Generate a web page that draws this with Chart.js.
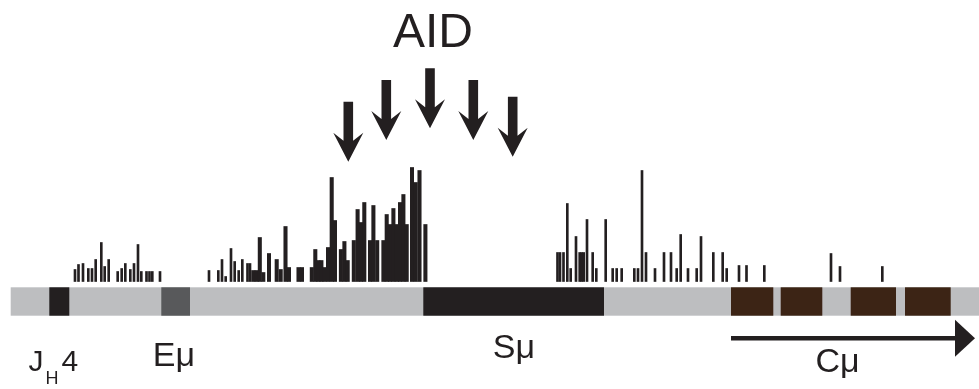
<!DOCTYPE html>
<html>
<head>
<meta charset="utf-8">
<script src="https://cdn.jsdelivr.net/npm/chart.js@4/dist/chart.umd.min.js"></script>
<style>
  html, body { margin: 0; padding: 0; background: #ffffff; }
  #wrap { width: 979px; height: 389px; }
</style>
</head>
<body>
<div id="wrap"><canvas id="c" width="979" height="389"></canvas></div>
<script>
// Mutation profile along the IgH locus (JH4 -> Cμ), position in map units.
// Scattered mutations: positions and counts.
const sparsePos = [
  75, 78.5, 83, 88.3, 92, 95.7, 101.3, 104.7, 108.7, 117.7, 121.7, 125.3, 130.3, 134, 138, 141.3, 146.5, 149.5, 152.3, 160,
  209, 218.3, 222, 225.7, 231, 234.7, 238.7, 242.3, 247.5, 250,
  557.5, 560, 563.5, 567.3, 570.7, 576, 579.7, 581.7, 583.7, 587, 592.7, 596.3, 605.7, 612.7, 616.7, 621.7,
  634.3, 638, 642, 646, 655, 664, 671, 676.7, 680.7, 688, 696.7, 701, 713.3, 722.7, 726.7,
  739, 746.5, 764.3, 831, 840, 882.3
];
const sparseCounts = [
  12, 17, 18, 13, 13, 22, 39, 15, 22, 10, 13, 18, 12, 18, 37, 10, 10, 10, 10, 10,
  11, 11, 22, 5, 33, 20, 11, 22, 18, 18,
  29, 29, 29, 78, 13, 45, 29, 29, 29, 62, 29, 13, 62, 13, 13, 13,
  13, 13, 111, 29, 13, 29, 29, 13, 47, 13, 13, 45, 29, 29, 13,
  16, 16, 16, 28, 15, 15
];

// Dense mutation cluster upstream of and into Sμ.
const densePos = [
  253.3, 256.6, 259.8, 263.3, 269, 276.7, 280.7, 285.5, 289, 298.5, 302,
  311.8, 315.3, 318.4, 321.4, 324.4, 328, 331.7, 335, 340.9, 344.4, 347.7,
  353.8, 357.6, 361, 364.3, 370, 373.4, 377.2, 383.4, 386.7, 390, 393.4,
  396.7, 400, 403.4, 406.7, 412, 415.7, 419.5, 425.4
];
const denseCounts = [
  11, 11, 44, 9, 28, 22, 12, 55, 14, 14, 14,
  14, 32, 21, 21, 14, 34, 104, 61, 32, 40, 21,
  41, 72, 59, 79, 41, 76, 41, 41, 67, 57, 73,
  57, 79, 87, 57, 114, 99, 111, 57
];

// Locus map elements.
const locusStart = 10.7;
const locusEnd = 979;
const elementNames = ['JH4', 'Eμ', 'Sμ', 'Cμ1', 'Cμ2', 'Cμ3', 'Cμ4'];
const elementStart = [49.3, 161.3, 423.3, 731, 780.7, 850.7, 905];
const elementEnd   = [69.3, 190, 604, 773.3, 822.3, 896, 950.7];
const elementKind  = ['segment', 'enhancer', 'switch', 'exon', 'exon', 'exon', 'exon'];
const transcriptStart = 731;
const transcriptEnd = 975;

// AID targeting sites marked by arrows.
const aidSites = [348.3, 386.3, 430, 473.3, 512.7];

const INK = '#231f20';
const kindColor = {
  segment: '#231f20',
  enhancer: '#58595b',
  switch: '#231f20',
  exon: '#3c2415'
};

const toXY = (xs, ys) => xs.map((v, i) => ({ x: v, y: ys[i] }));

const locusPlugin = {
  id: 'locusMap',
  afterDatasetsDraw(chart) {
    const { ctx, scales: { x, y } } = chart;
    const base = y.getPixelForValue(0);
    const top = base + 5.8;
    const bottom = base + 34.2;
    ctx.save();

    // Locus strip
    ctx.fillStyle = '#bdbec0';
    const sx = x.getPixelForValue(locusStart);
    ctx.fillRect(sx, top, x.getPixelForValue(locusEnd) - sx, bottom - top);

    // Elements on the strip
    elementStart.forEach((s, i) => {
      const a = x.getPixelForValue(s);
      const b = x.getPixelForValue(elementEnd[i]);
      ctx.fillStyle = kindColor[elementKind[i]];
      ctx.fillRect(a, top, b - a, bottom - top);
    });

    // Transcription arrow under Cμ
    const ay = base + 56.8;
    const t0 = x.getPixelForValue(transcriptStart);
    const t1 = x.getPixelForValue(transcriptEnd);
    ctx.strokeStyle = INK;
    ctx.lineWidth = 4.5;
    ctx.beginPath();
    ctx.moveTo(t0, ay);
    ctx.lineTo(t1 - 18, ay);
    ctx.stroke();
    ctx.fillStyle = INK;
    ctx.beginPath();
    ctx.moveTo(t1 - 20, ay - 18.5);
    ctx.lineTo(t1, ay);
    ctx.lineTo(t1 - 20, ay + 18.5);
    ctx.closePath();
    ctx.fill();

    // AID arrows
    const tipDrop = [0, 21.7, 33.4, 21.7, 5];
    aidSites.forEach((s, i) => {
      const cx = x.getPixelForValue(s);
      const tip = base - 119.8 - tipDrop[i];
      const shaftTop = tip - 60;
      const sw = 4.8, hw = 15;
      ctx.beginPath();
      ctx.moveTo(cx - sw, shaftTop);
      ctx.lineTo(cx + sw, shaftTop);
      ctx.lineTo(cx + sw, tip - 21);
      ctx.lineTo(cx + hw, tip - 29);
      ctx.lineTo(cx, tip);
      ctx.lineTo(cx - hw, tip - 29);
      ctx.lineTo(cx - sw, tip - 21);
      ctx.closePath();
      ctx.fill();
    });

    // Text labels
    const font = (px) => px + 'px "Liberation Sans", Arial, sans-serif';
    ctx.fillStyle = INK;
    ctx.textBaseline = 'alphabetic';

    ctx.textAlign = 'center';
    ctx.font = font(48);
    ctx.fillText('AID', x.getPixelForValue(aidSites[2]) + 3, 47);

    ctx.textAlign = 'left';
    ctx.font = font(30);
    ctx.fillText('J', 28.5, base + 89);
    ctx.font = font(18);
    ctx.fillText('H', 45.5, base + 102);
    ctx.font = font(30);
    ctx.fillText('4', 61.5, base + 89);

    ctx.textAlign = 'center';
    ctx.font = font(34);
    ctx.fillText('Eμ', 174, base + 84);
    ctx.fillText('Sμ', 514, base + 76);
    ctx.fillText('Cμ', 837.5, base + 90.5);

    ctx.restore();
  }
};

new Chart(document.getElementById('c'), {
  type: 'bar',
  data: {
    datasets: [
      {
        label: 'scattered mutations',
        data: toXY(sparsePos, sparseCounts),
        backgroundColor: INK,
        borderWidth: 0,
        barThickness: 2,
        grouped: false
      },
      {
        label: 'clustered mutations',
        data: toXY(densePos, denseCounts),
        backgroundColor: INK,
        borderWidth: 0,
        barThickness: 3.4,
        grouped: false
      }
    ]
  },
  options: {
    responsive: false,
    animation: false,
    layout: { padding: 0 },
    scales: {
      x: { type: 'linear', min: 0, max: 979, offset: false, display: false },
      y: { min: -107.5, max: 281.5, display: false }
    },
    plugins: {
      legend: { display: false },
      tooltip: { enabled: false },
      title: { display: false }
    }
  },
  plugins: [locusPlugin]
});
</script>
</body>
</html>
